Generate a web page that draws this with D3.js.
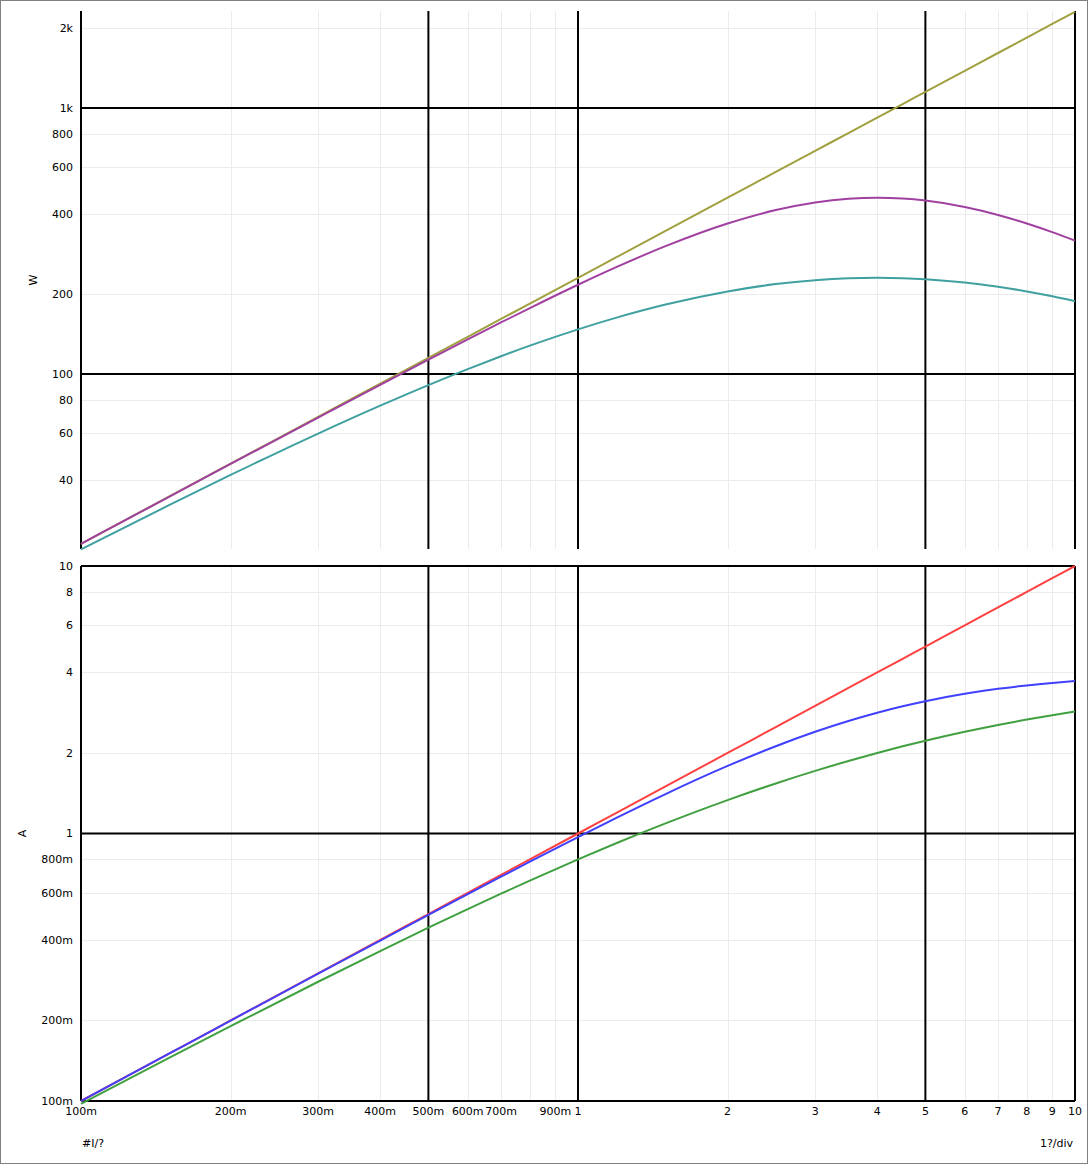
<!DOCTYPE html>
<html>
<head>
<meta charset="utf-8">
<script src="https://cdn.jsdelivr.net/npm/d3@7"></script>
<style>
  html, body { margin: 0; padding: 0; background: #fff; }
  svg { display: block; }
  text { font-family: "DejaVu Sans", sans-serif; font-size: 11px; fill: #000; }
</style>
</head>
<body>
<svg id="chart" width="1088" height="1164"></svg>
<script>
// ---- data ----
const xValues = [0.1, 0.15, 0.2, 0.3, 0.4, 0.5, 0.6, 0.7, 0.8, 1, 1.2, 1.5, 2, 2.5, 3, 3.5, 4, 4.5, 5, 6, 7, 8, 9, 10];

// top panel (W)
const powerOlive  = [23, 34.5, 46, 69, 92, 115, 138, 161, 184, 230, 276, 345, 460, 575, 690, 805, 920, 1035, 1150, 1380, 1610, 1840, 2070, 2300];
const powerPurple = [22.99, 34.45, 45.89, 68.61, 91.09, 113.2, 135.0, 156.2, 176.9, 216.5, 253.2, 302.5, 368, 413.5, 441.6, 455.9, 460, 456.8, 448.8, 424.6, 396.3, 368, 341.4, 317.2];
const powerTeal   = [21.89, 32.05, 41.72, 59.71, 76.03, 90.86, 104.35, 116.6, 127.8, 147.2, 163.3, 182.5, 204.4, 217.8, 225.3, 229.0, 230, 229.2, 227.2, 220.8, 212.9, 204.4, 196.0, 187.8];

// bottom panel (A)
const currentRed   = [0.1, 0.15, 0.2, 0.3, 0.4, 0.5, 0.6, 0.7, 0.8, 1, 1.2, 1.5, 2, 2.5, 3, 3.5, 4, 4.5, 5, 6, 7, 8, 9, 10];
const currentBlue  = [0.09997, 0.1499, 0.1998, 0.2992, 0.398, 0.4961, 0.5934, 0.6895, 0.7845, 0.9701, 1.149, 1.4045, 1.789, 2.12, 2.4, 2.634, 2.828, 2.99, 3.124, 3.328, 3.473, 3.578, 3.655, 3.714];
const currentGreen = [0.09756, 0.1446, 0.1905, 0.2791, 0.3636, 0.4444, 0.5217, 0.5957, 0.6667, 0.8, 0.9231, 1.0909, 1.3333, 1.5385, 1.7143, 1.8667, 2, 2.1176, 2.2222, 2.4, 2.5455, 2.6667, 2.7692, 2.8571];

// ticks
const xTickValues = [0.1, 0.2, 0.3, 0.4, 0.5, 0.6, 0.7, 0.9, 1, 2, 3, 4, 5, 6, 7, 8, 9, 10];
const xTickLabels = ["100m", "200m", "300m", "400m", "500m", "600m", "700m", "900m", "1", "2", "3", "4", "5", "6", "7", "8", "9", "10"];
const xMinorGrid = [0.2, 0.3, 0.4, 0.6, 0.7, 0.8, 0.9, 2, 3, 4, 6, 7, 8, 9];
const xMajorLines = [0.1, 0.5, 1, 5, 10];

const topTickValues = [40, 60, 80, 100, 200, 400, 600, 800, 1000, 2000];
const topTickLabels = ["40", "60", "80", "100", "200", "400", "600", "800", "1k", "2k"];
const topMajorLines = [100, 1000];

const botTickValues = [0.1, 0.2, 0.4, 0.6, 0.8, 1, 2, 4, 6, 8, 10];
const botTickLabels = ["100m", "200m", "400m", "600m", "800m", "1", "2", "4", "6", "8", "10"];
const botMajorLines = [0.1, 1, 10];

const topSeries = [
  { values: powerOlive,  color: "#a0a040" },
  { values: powerPurple, color: "#a040a0" },
  { values: powerTeal,   color: "#40a0a0" }
];
const botSeries = [
  { values: currentRed,   color: "#ff4040" },
  { values: currentBlue,  color: "#4040ff" },
  { values: currentGreen, color: "#40a040" }
];

// ---- drawing ----
const svg = d3.select("#chart");
svg.append("rect").attr("x", 0.5).attr("y", 0.5).attr("width", 1087).attr("height", 1163)
  .attr("fill", "#fff").attr("stroke", "#808080").attr("stroke-width", 1);

const x = d3.scaleLog().domain([0.1, 10]).range([81, 1075]);
const yTop = d3.scaleLog().domain([21.98, 2316]).range([549, 11]);
const yBot = d3.scaleLog().domain([0.1, 10]).range([1101, 566]);

function panel(y, yTicks, yLabels, majorY, series, yTitle, titleX) {
  const [y0, y1] = y.range(); // bottom, top
  const g = svg.append("g");
  // minor grid
  g.selectAll(".gx").data(xMinorGrid).join("line")
    .attr("x1", d => Math.round(x(d)) + 0.5).attr("x2", d => Math.round(x(d)) + 0.5)
    .attr("y1", y1).attr("y2", y0).attr("stroke", "#ebebeb").attr("stroke-width", 1);
  g.selectAll(".gy").data(yTicks.filter(v => !majorY.includes(v))).join("line")
    .attr("x1", x.range()[0]).attr("x2", x.range()[1])
    .attr("y1", d => Math.round(y(d)) + 0.5).attr("y2", d => Math.round(y(d)) + 0.5)
    .attr("stroke", "#ebebeb").attr("stroke-width", 1);
  // major lines
  g.selectAll(".my").data(majorY).join("line")
    .attr("x1", x.range()[0]).attr("x2", x.range()[1])
    .attr("y1", d => y(d)).attr("y2", d => y(d))
    .attr("stroke", "#000").attr("stroke-width", 2);
  g.selectAll(".mx").data(xMajorLines).join("line")
    .attr("x1", d => x(d)).attr("x2", d => x(d))
    .attr("y1", y1).attr("y2", y0)
    .attr("stroke", "#000").attr("stroke-width", 2);
  // y tick labels
  g.selectAll(".yl").data(yTicks).join("text")
    .attr("x", 73).attr("y", d => y(d)).attr("dy", "0.36em")
    .attr("text-anchor", "end").text((d, i) => yLabels[i]);
  // series
  const line = d3.line().x((d, i) => x(xValues[i])).y(d => y(d)).curve(d3.curveMonotoneX);
  series.forEach(s => {
    g.append("path").attr("d", line(s.values)).attr("fill", "none")
      .attr("stroke", s.color).attr("stroke-width", 2).attr("stroke-linejoin", "round");
  });
  // title
  const ty = (y0 + y1) / 2;
  g.append("text").attr("transform", `translate(${titleX},${ty}) rotate(-90)`)
    .attr("text-anchor", "middle").attr("dy", "0.36em").text(yTitle);
}

panel(yTop, topTickValues, topTickLabels, topMajorLines, topSeries, "W", 33);
panel(yBot, botTickValues, botTickLabels, botMajorLines, botSeries, "A", 22);

// x tick labels
svg.selectAll(".xl").data(xTickValues).join("text")
  .attr("x", d => x(d)).attr("y", 1111).attr("dy", "0.36em")
  .attr("text-anchor", "middle").text((d, i) => xTickLabels[i]);

svg.append("text").attr("x", 82).attr("y", 1143).attr("dy", "0.36em").text("#I/?");
svg.append("text").attr("x", 1073).attr("y", 1143).attr("dy", "0.36em")
  .attr("text-anchor", "end").text("1?/div");
</script>
</body>
</html>
